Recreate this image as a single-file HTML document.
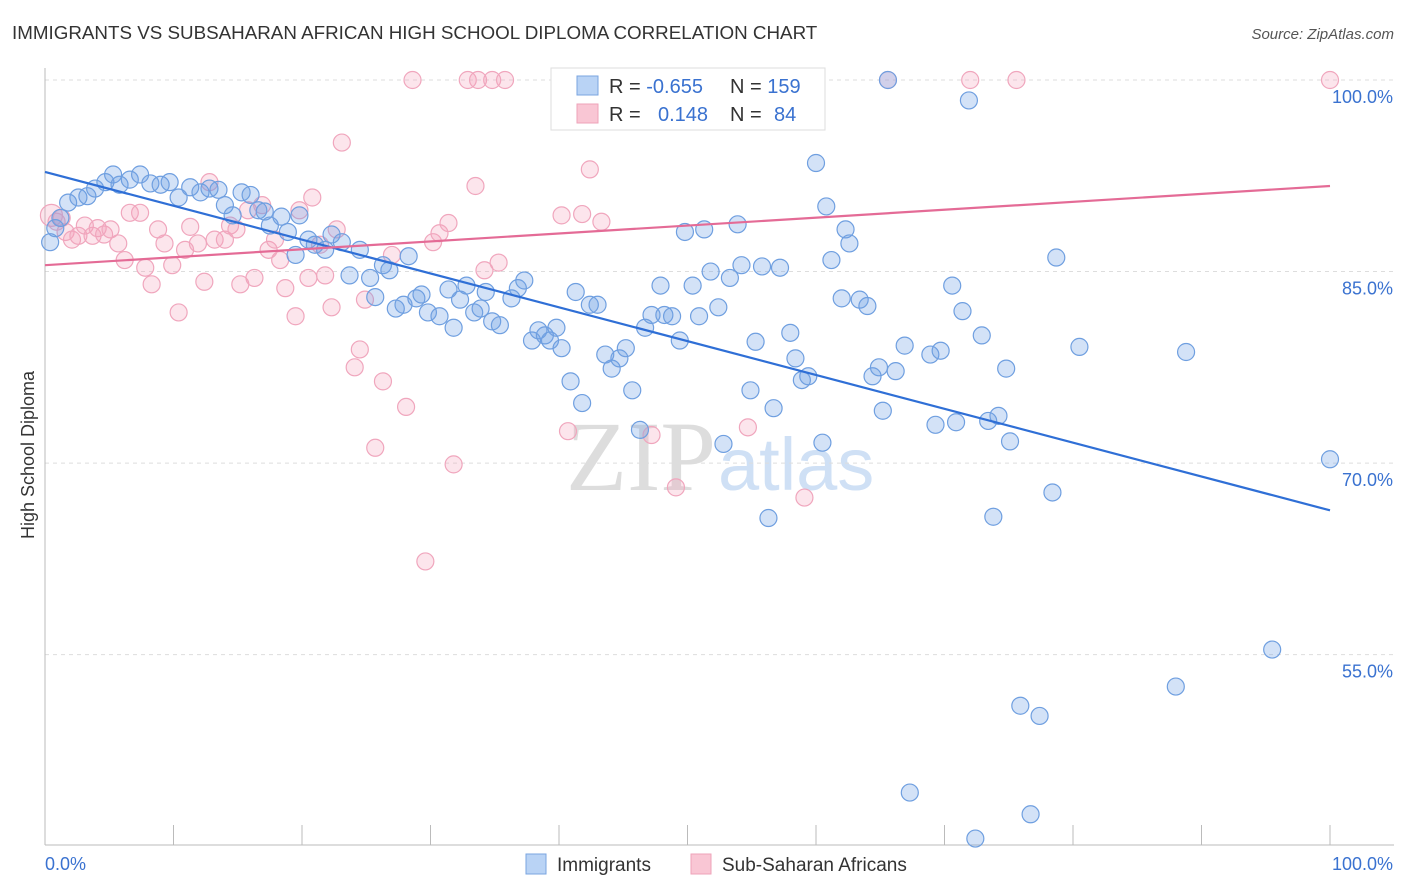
<!DOCTYPE html>
<html><head><meta charset="utf-8"><style>
body{margin:0;background:#fff;font-family:"Liberation Sans",sans-serif;}
svg{display:block}
</style></head><body>
<svg id="chart" width="1406" height="892">
<text x="12" y="39" font-size="18.8" fill="#333">IMMIGRANTS VS SUBSAHARAN AFRICAN HIGH SCHOOL DIPLOMA CORRELATION CHART</text>
<text x="1394" y="39" font-size="15" fill="#555" text-anchor="end" font-style="italic">Source: ZipAtlas.com</text>
<text x="716" y="490" font-size="100" fill="#ddd" text-anchor="end" font-family="Liberation Serif">ZIP</text>
<text x="718" y="490" font-size="74" fill="#cfe0f5">atlas</text>
<g id="grid"></g>
<g id="pts"></g>
<g id="trend"></g>
<text transform="translate(34,455) rotate(-90)" font-size="18" fill="#333" text-anchor="middle">High School Diploma</text>
<g>
<rect x="551" y="68" width="274" height="62" fill="#fff" stroke="#ddd"/>
<rect x="577" y="76" width="21" height="19" fill="#b9d3f5" stroke="#7aa5e0"/>
<rect x="577" y="104" width="21" height="19" fill="#f9c6d4" stroke="#eea3b9"/>
<text x="609" y="93" font-size="20" fill="#333">R = <tspan fill="#3a72d0">-0.655</tspan></text>
<text x="730" y="93" font-size="20" fill="#333">N = <tspan fill="#3a72d0">159</tspan></text>
<text x="609" y="121" font-size="20" fill="#333">R = <tspan fill="#3a72d0" x="658">0.148</tspan></text>
<text x="730" y="121" font-size="20" fill="#333">N = <tspan fill="#3a72d0" x="774">84</tspan></text>
</g>
<g>
<rect x="526" y="854" width="20" height="20" fill="#b9d3f5" stroke="#7aa5e0"/>
<text x="557" y="871" font-size="19" fill="#333">Immigrants</text>
<rect x="691" y="854" width="20" height="20" fill="#f9c6d4" stroke="#eea3b9"/>
<text x="722" y="871" font-size="19" fill="#333">Sub-Saharan Africans</text>
</g>
</svg>
<script>
const yTicks=[100,85,70,55];
const yTickLabels=["100.0%","85.0%","70.0%","55.0%"];
const xTickLabels=["0.0%","100.0%"];
const blueX=[0.4,0.8,1.2,1.8,2.6,3.3,3.9,4.7,5.3,5.8,6.6,7.4,8.2,9.0,9.7,10.4,11.3,12.1,12.8,13.5,14.0,14.6,15.3,16.0,16.6,17.1,17.5,18.4,18.9,19.5,19.8,20.5,21.0,21.8,22.3,23.1,23.7,24.5,25.3,25.7,26.3,26.8,27.3,27.9,28.3,28.9,29.3,29.8,30.7,31.4,31.8,32.3,32.8,33.4,33.9,34.3,34.8,35.4,36.3,36.8,37.3,37.9,38.4,38.9,39.3,39.8,40.2,40.9,41.3,41.8,42.4,43.0,43.6,44.1,44.7,45.2,45.7,46.3,46.7,47.2,47.9,48.2,48.8,49.4,49.8,50.4,50.9,51.3,51.8,52.4,52.8,53.3,53.9,54.2,54.9,55.3,55.8,56.3,56.7,57.2,58.0,58.4,58.9,59.4,60.0,60.5,60.8,61.2,62.0,62.3,62.6,63.4,64.0,64.4,64.9,65.2,65.6,66.2,66.9,67.3,68.9,69.3,69.7,70.6,70.9,71.4,71.9,72.4,72.9,73.4,73.8,74.2,74.8,75.1,75.9,76.7,77.4,78.4,78.7,80.5,88.0,88.8,95.5,100];
const blueY=[87.3,88.4,89.2,90.4,90.8,90.9,91.5,92.0,92.6,91.8,92.2,92.6,91.9,91.8,92.0,90.8,91.6,91.2,91.5,91.4,90.2,89.4,91.2,91.0,89.8,89.7,88.6,89.3,88.1,86.3,89.4,87.5,87.1,86.7,87.9,87.3,84.7,86.7,84.5,83.0,85.5,85.1,82.1,82.4,86.2,82.9,83.2,81.8,81.5,83.6,80.6,82.8,83.9,81.8,82.1,83.4,81.1,80.8,82.9,83.7,84.3,79.6,80.4,80.0,79.6,80.6,79.0,76.4,83.4,74.7,82.4,82.4,78.5,77.4,78.2,79.0,75.7,72.6,80.6,81.6,83.9,81.6,81.5,79.6,88.1,83.9,81.5,88.3,85.0,82.2,71.5,84.5,88.7,85.5,75.7,79.5,85.4,65.7,74.3,85.3,80.2,78.2,76.5,76.8,93.5,71.6,90.1,85.9,82.9,88.3,87.2,82.8,82.3,76.8,77.5,74.1,100,77.2,79.2,44.2,78.5,73.0,78.8,83.9,73.2,81.9,98.4,40.6,80.0,73.3,65.8,73.7,77.4,71.7,51.0,42.5,50.2,67.7,86.1,79.1,52.5,78.7,55.4,70.3];
const pinkX=[0.5,0.9,1.3,1.6,2.1,2.6,3.1,3.7,4.1,4.6,5.1,5.7,6.2,6.6,7.4,7.8,8.3,8.8,9.3,9.9,10.4,10.9,11.3,11.9,12.4,12.8,13.2,14.0,14.4,14.9,15.2,15.8,16.3,16.9,17.4,17.9,18.3,18.7,19.5,19.8,20.5,20.8,21.4,21.8,22.3,22.7,23.1,24.1,24.5,24.9,25.7,26.3,27.0,28.1,28.6,29.6,30.2,30.7,31.4,31.8,32.9,33.5,33.7,34.2,34.8,35.3,35.8,40.2,40.7,41.8,42.4,43.3,47.2,48.0,49.1,54.7,55.6,59.1,65.6,72.0,75.6,100];
const pinkY=[89.4,88.9,89.2,88.1,87.5,87.8,88.6,87.8,88.4,87.9,88.3,87.2,85.9,89.6,89.6,85.3,84.0,88.3,87.2,85.5,81.8,86.7,88.5,87.2,84.2,92.0,87.5,87.5,88.6,88.3,84.0,89.8,84.5,90.2,86.7,87.5,85.9,83.7,81.5,89.8,84.5,90.8,87.1,84.7,82.2,88.3,95.1,77.5,78.9,82.8,71.2,76.4,86.3,74.4,100,62.3,87.3,88.0,88.8,69.9,100,91.7,100,85.1,100,85.7,100,89.4,72.5,89.5,93.0,88.9,72.2,100,68.1,72.8,99.4,67.3,100,100,100,100];
const blueTrend=[92.8,66.3];
const pinkTrend=[85.5,91.7];

const X0=45,X1=1330,YTOP=80,PXPER=12.77;
const sx=v=>X0+(X1-X0)*v/100;
const sy=v=>YTOP+(100-v)*PXPER;
const NS='http://www.w3.org/2000/svg';
function mk(tag,attrs,parent,txt){const e=document.createElementNS(NS,tag);for(const k in attrs)e.setAttribute(k,attrs[k]);if(txt!==undefined)e.textContent=txt;parent.appendChild(e);return e;}
const grid=document.getElementById('grid');
yTicks.forEach((t,i)=>{
  const l=mk('line',{x1:X0,x2:1394,y1:sy(t),y2:sy(t),stroke:'#ddd','stroke-dasharray':'4,4'},grid);
  
  
  const tx=mk('text',{x:1393,y:sy(t)+23,'font-size':18,fill:'#3a72d0','text-anchor':'end'},grid,yTickLabels[i]);
  
  
});
const ax=mk('line',{x1:X0,x2:X0,y1:68,y2:845,stroke:'#bbb'},grid);


const bx=mk('line',{x1:X0,x2:1394,y1:845,y2:845,stroke:'#bbb'},grid);


for(let i=0;i<=10;i++){
  const t=mk('line',{x1:sx(i*10),x2:sx(i*10),y1:825,y2:845,stroke:'#bbb'},grid);
  
  
}
const xl0=mk('text',{x:45,y:870,'font-size':18,fill:'#3a72d0'},grid,xTickLabels[0]);


const xl1=mk('text',{x:1393,y:870,'font-size':18,fill:'#3a72d0','text-anchor':'end'},grid,xTickLabels[1]);



const pts=document.getElementById('pts');
pinkX.forEach((x,i)=>{
  const c=mk('circle',{cx:sx(x),cy:sy(pinkY[i]),r:i===0?11:8.5,fill:'rgba(244,160,188,0.28)',stroke:'#f0a6bd','stroke-width':1.2},pts);
  
  
});
blueX.forEach((x,i)=>{
  const c=mk('circle',{cx:sx(x),cy:sy(blueY[i]),r:8.5,fill:'rgba(110,160,230,0.3)',stroke:'#6f9fe0','stroke-width':1.2},pts);
  
  
});
const tr=document.getElementById('trend');
const bl=mk('line',{x1:sx(0),y1:sy(blueTrend[0]),x2:sx(100),y2:sy(blueTrend[1]),stroke:'#2f6fd6','stroke-width':2.2},tr);


const pl=mk('line',{x1:sx(0),y1:sy(pinkTrend[0]),x2:sx(100),y2:sy(pinkTrend[1]),stroke:'#e46b96','stroke-width':2.2},tr);


</script>
</body></html>
